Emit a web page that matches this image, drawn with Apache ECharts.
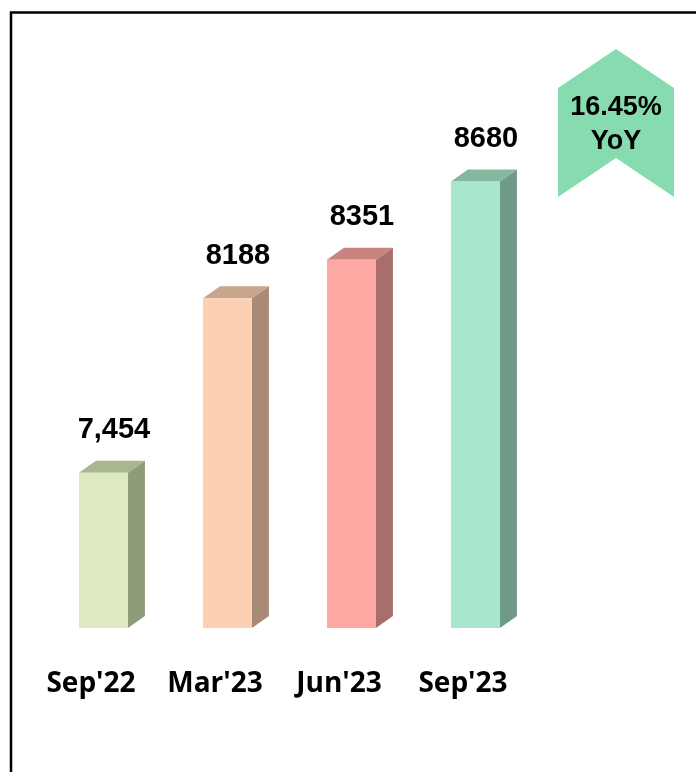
<!DOCTYPE html>
<html>
<head>
<meta charset="utf-8">
<script src="https://cdn.jsdelivr.net/npm/echarts@6/dist/echarts.min.js"></script>
<style>
  html, body { margin: 0; padding: 0; background: #fff; }
  #chart { width: 696px; height: 772px; }
</style>
</head>
<body>
<div id="chart"></div>
<script>
const categories = ["Sep'22", "Mar'23", "Jun'23", "Sep'23"]
const values = [7454, 8188, 8351, 8680]
const valueLabels = ['7,454', '8188', '8351', '8680']
const yoyText = ['16.45%', 'YoY']

// front / top / side shades for each bar
const frontColors = ['#dde9c0', '#fdd0b3', '#fea8a3', '#a7e6cd']
const topColors = ['#a9b78f', '#c9a58b', '#c8847f', '#86b8a1']
const sideColors = ['#8f9c79', '#a98a76', '#a86e6b', '#6f9a87']

const AXIS_MIN = 6800
const AXIS_MAX = 8800

const chart = echarts.init(document.getElementById('chart'))

function renderBar(params, api) {
  const i = api.value(0)
  const top = api.coord([i, api.value(1)])
  const base = api.coord([i, AXIS_MIN])
  const bw = api.size([1, 0])[0]
  const x0 = top[0] - bw * 0.097
  const x1 = top[0] + bw * 0.298
  const dx = bw * 0.137
  const dy = 12
  const yt = top[1]
  const yb = base[1]
  return {
    type: 'group',
    children: [
      {
        type: 'polygon',
        shape: { points: [[x1, yt], [x1 + dx, yt - dy], [x1 + dx, yb - dy], [x1, yb]] },
        style: { fill: sideColors[i] },
      },
      {
        type: 'polygon',
        shape: { points: [[x0, yt], [x0 + dx, yt - dy], [x1 + dx, yt - dy], [x1, yt]] },
        style: { fill: topColors[i] },
      },
      {
        type: 'rect',
        shape: { x: x0, y: yt, width: x1 - x0, height: yb - yt },
        style: { fill: frontColors[i] },
      },
      {
        type: 'text',
        x: top[0] + bw * 0.185,
        y: yt - 28,
        style: {
          text: valueLabels[i],
          fill: '#000',
          font: 'bold 29px "Liberation Sans", Arial, sans-serif',
          align: 'center',
          verticalAlign: 'bottom',
        },
      },
    ],
  }
}

chart.setOption({
  animation: false,
  backgroundColor: '#fff',
  grid: { top: 153, bottom: 144, left: 29, right: 171 },
  xAxis: {
    type: 'category',
    data: categories,
    axisLine: { show: false },
    axisTick: { show: false },
    axisLabel: {
      interval: 0,
      color: '#000',
      fontSize: 28,
      fontWeight: 'bold',
      fontFamily: '"Open Sans", sans-serif',
      margin: 42,
    },
  },
  yAxis: {
    type: 'value',
    min: AXIS_MIN,
    max: AXIS_MAX,
    show: false,
  },
  graphic: [
    {
      type: 'polyline',
      shape: { points: [[11, 772], [11, 12.5], [696, 12.5]] },
      style: { stroke: '#000', lineWidth: 2.5, fill: null },
    },
    {
      type: 'polygon',
      shape: { points: [[558, 88], [616, 49], [674, 88], [674, 197], [616, 158], [558, 197]] },
      style: { fill: '#86dcb0' },
    },
    {
      type: 'text',
      x: 616,
      y: 108,
      style: {
        text: yoyText[0],
        fill: '#000',
        font: 'bold 27px "Liberation Sans", Arial, sans-serif',
        align: 'center',
        verticalAlign: 'middle',
      },
    },
    {
      type: 'text',
      x: 616,
      y: 142,
      style: {
        text: yoyText[1],
        fill: '#000',
        font: 'bold 27px "Liberation Sans", Arial, sans-serif',
        align: 'center',
        verticalAlign: 'middle',
      },
    },
  ],
  series: [
    {
      type: 'custom',
      renderItem: renderBar,
      data: values.map((v, i) => [i, v]),
      encode: { x: 0, y: 1 },
    },
  ],
})
</script>
</body>
</html>
